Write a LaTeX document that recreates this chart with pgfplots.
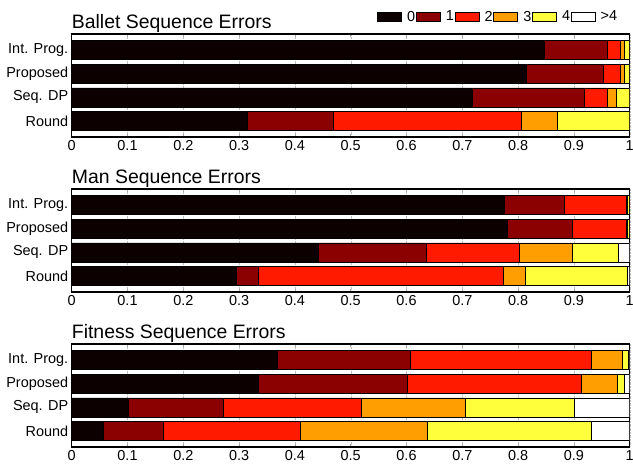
\documentclass[border=0pt]{standalone}
\usepackage{fontspec}
\setmainfont{Liberation Sans}
\usepackage{pgfplots}
\usepackage{pgfplotstable}
\pgfplotsset{compat=1.18}

\definecolor{c0}{RGB}{12,0,0}
\definecolor{c1}{RGB}{139,0,0}
\definecolor{c2}{RGB}{255,26,0}
\definecolor{c3}{RGB}{255,158,0}
\definecolor{c4}{RGB}{255,255,60}
\definecolor{c5}{RGB}{255,255,255}

\pgfplotstableread{
row c0 c1 c2 c3 c4 c5
1 0.847 0.113 0.023 0.007 0.009 0.001
2 0.815 0.137 0.031 0.007 0.009 0.001
3 0.718 0.201 0.040 0.017 0.024 0.000
4 0.315 0.153 0.338 0.065 0.129 0.000
}\ballet

\pgfplotstableread{
row c0 c1 c2 c3 c4 c5
1 0.776 0.106 0.112 0.001 0.004 0.001
2 0.780 0.118 0.096 0.001 0.004 0.001
3 0.442 0.193 0.167 0.096 0.081 0.021
4 0.295 0.039 0.440 0.038 0.183 0.005
}\man

\pgfplotstableread{
row c0 c1 c2 c3 c4 c5
1 0.368 0.238 0.325 0.056 0.011 0.002
2 0.334 0.268 0.311 0.064 0.014 0.009
3 0.102 0.170 0.247 0.186 0.196 0.099
4 0.057 0.107 0.245 0.228 0.294 0.069
}\fitness

\pgfplotsset{
  panel/.style={
    scale only axis,
    width=558bp, height=103bp,
    anchor=north west,
    xbar stacked,
    bar width=0.8,
    xmin=0, xmax=1,
    ymin=0.33, ymax=4.67,
    y dir=reverse,
    ytick={1,2,3,4},
    yticklabels={Int. Prog., Proposed, Seq. DP, Round},
    ytick style={draw=none},
    xtick={0,0.1,0.2,0.3,0.4,0.5,0.6,0.7,0.8,0.9,1},
    xticklabels={0,0.1,0.2,0.3,0.4,0.5,0.6,0.7,0.8,0.9,1},
    xtick pos=both,
    xticklabel pos=lower,
    tick align=inside,
    major tick length=3bp,
    xtick style={gray!70, line width=0.5bp},
    xmajorgrids,
    major grid style={densely dotted, gray!50, line width=0.4bp},
    axis line style={line width=1.3bp, black},
    tick label style={font=\fontsize{14.5}{16}\selectfont},
    /pgf/number format/assume math mode=true,
    every axis title shift=0pt,
    title style={at={(0,1)}, anchor=base west, yshift=6bp, inner sep=0pt,
                 font=\fontsize{19.5}{22}\selectfont},
    legend image code/.code={\draw[##1, line width=0.6bp, draw=black] (0bp,-4.75bp) rectangle (24bp,4.75bp);},
    every axis plot/.append style={draw=black, line width=0.6bp},
  },
}

\newcommand{\bars}[1]{%
  \addplot[fill=c0] table[x=c0, y=row] {#1};
  \addplot[fill=c1] table[x=c1, y=row] {#1};
  \addplot[fill=c2] table[x=c2, y=row] {#1};
  \addplot[fill=c3] table[x=c3, y=row] {#1};
  \addplot[fill=c4] table[x=c4, y=row] {#1};
  \addplot[fill=c5] table[x=c5, y=row] {#1};
}

\begin{document}
\begin{tikzpicture}
\path[use as bounding box] (-71.7bp,34bp) rectangle (561.3bp,-431bp);

\begin{axis}[panel, at={(0bp,0bp)}, title={Ballet Sequence Errors},
  legend columns=6,
  legend style={at={(1,1)}, anchor=south east, xshift=-12bp, yshift=11bp,
    draw=none, fill=none, inner sep=0pt,
    nodes={inner sep=0.3bp},
    font=\fontsize{14.5}{16}\selectfont,
    /tikz/every even column/.append style={column sep=0.5bp},
    /tikz/every odd column/.append style={column sep=5bp}},
]
\bars{\ballet}
\legend{0,1,2,3,4,>4}
\end{axis}

\begin{axis}[panel, at={(0bp,-155bp)}, title={Man Sequence Errors}]
\bars{\man}
\end{axis}

\begin{axis}[panel, at={(0bp,-310bp)}, title={Fitness Sequence Errors}]
\bars{\fitness}
\end{axis}
\end{tikzpicture}
\end{document}
